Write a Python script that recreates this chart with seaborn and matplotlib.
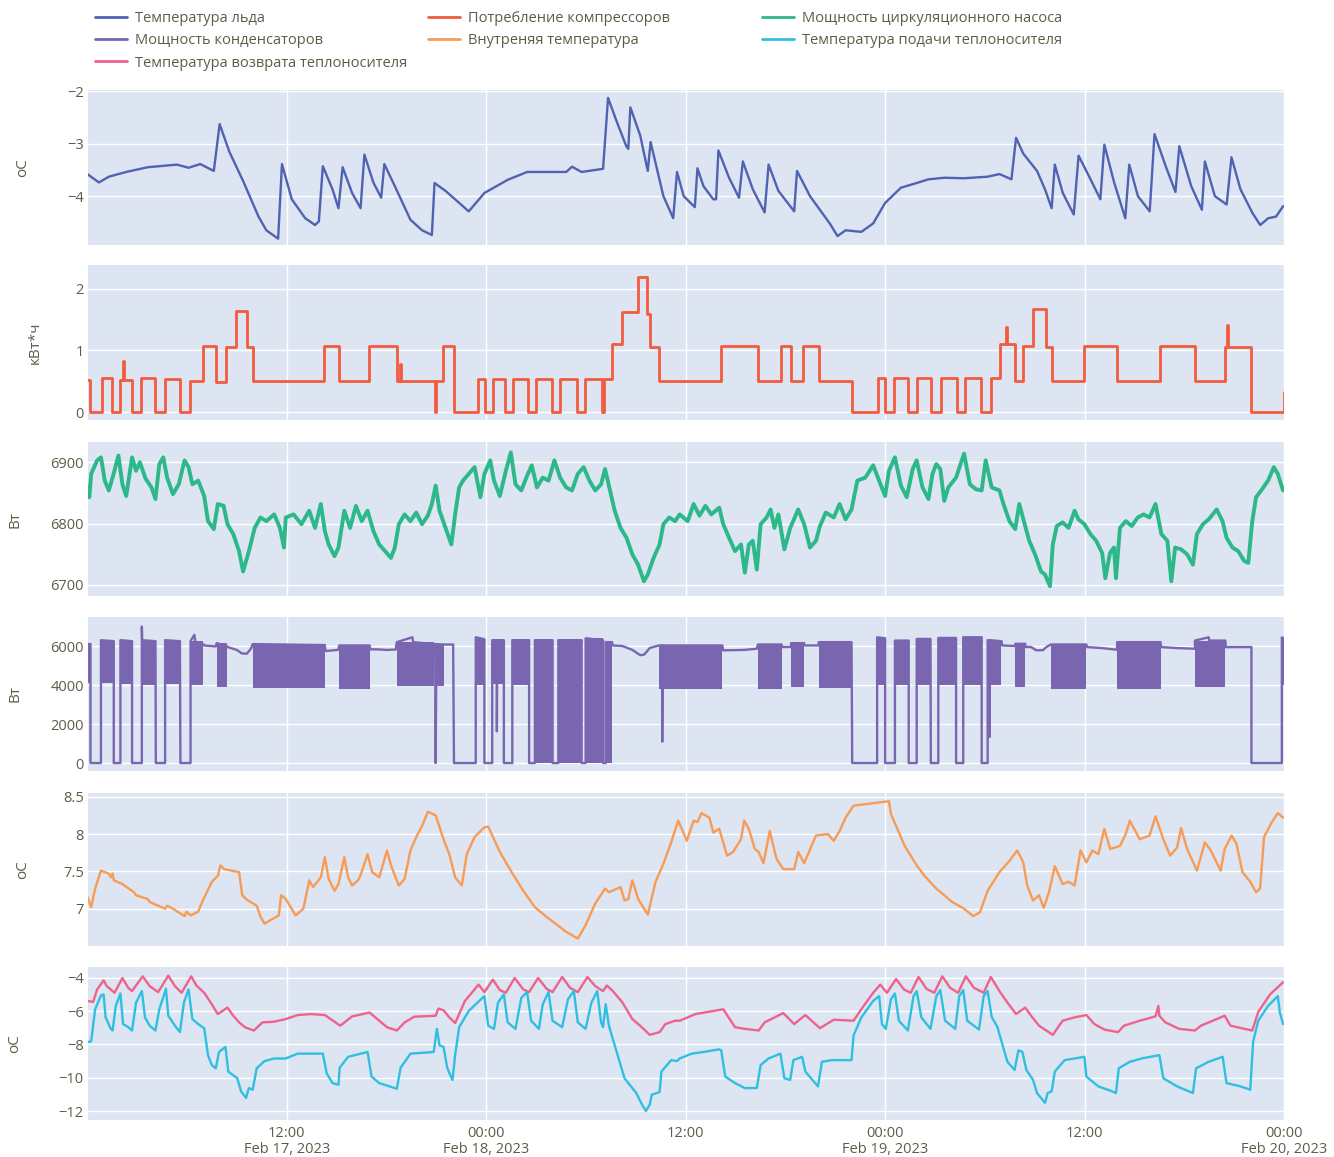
import numpy as np
import pandas as pd
import matplotlib
matplotlib.use("Agg")
import matplotlib.pyplot as plt
import seaborn as sns
from matplotlib.lines import Line2D
from matplotlib.ticker import FuncFormatter

START = pd.Timestamp("2023-02-17 00:00")

# ---- series: (hours since Feb 17 00:00, value) ----
ICE = [(0, -3.58), (0.70, -3.74), (1.29, -3.63), (2.34, -3.54), (3.63, -3.45), (5.39, -3.40),
       (6.09, -3.46), (6.79, -3.39), (7.61, -3.52), (7.96, -2.63), (8.55, -3.16), (9.37, -3.71),
       (10.30, -4.39), (10.77, -4.65), (11.48, -4.81), (11.71, -3.39), (12.30, -4.06), (13.11, -4.42),
       (13.70, -4.55), (13.93, -4.48), (14.17, -3.43), (14.75, -3.87), (15.11, -4.23), (15.36, -3.45),
       (15.93, -3.94), (16.44, -4.23), (16.67, -3.21), (17.21, -3.74), (17.68, -4.03), (17.87, -3.39),
       (18.50, -3.81), (19.44, -4.45), (20.14, -4.65), (20.73, -4.74), (20.89, -3.75), (21.55, -3.90),
       (22.95, -4.29), (23.89, -3.94), (25.29, -3.69), (26.46, -3.54), (28.81, -3.54), (29.16, -3.44),
       (29.74, -3.54), (31.03, -3.48), (31.33, -2.13), (31.85, -2.58), (32.44, -3.06), (32.55, -3.10),
       (32.67, -2.31), (33.26, -2.84), (33.72, -3.52), (33.89, -2.97), (34.66, -4.00), (35.25, -4.42),
       (35.48, -3.54), (35.88, -4.00), (36.55, -4.21), (36.71, -3.47), (37.07, -3.81), (37.66, -4.06),
       (37.83, -4.06), (37.97, -3.13), (38.61, -3.65), (39.21, -4.03), (39.44, -3.34), (40.04, -3.87),
       (40.75, -4.31), (40.99, -3.40), (41.58, -3.90), (42.53, -4.29), (42.70, -3.52), (43.48, -4.00),
       (44.67, -4.52), (45.14, -4.76), (45.62, -4.65), (46.57, -4.68), (47.28, -4.52), (48.00, -4.13),
       (48.95, -3.84), (49.90, -3.75), (50.61, -3.68), (51.56, -3.65), (52.75, -3.66), (54.17, -3.63),
       (54.88, -3.58), (55.60, -3.68), (55.88, -2.89), (56.31, -3.19), (57.14, -3.52), (57.62, -3.87),
       (58.02, -4.23), (58.21, -3.40), (58.69, -3.94), (59.35, -4.35), (59.64, -3.23), (60.36, -3.68),
       (60.95, -4.06), (61.19, -3.02), (61.78, -3.74), (62.45, -4.42), (62.69, -3.40), (63.21, -4.00),
       (63.92, -4.29), (64.21, -2.82), (64.87, -3.42), (65.47, -3.92), (65.70, -3.05), (66.42, -3.81),
       (67.06, -4.26), (67.24, -3.34), (67.84, -4.00), (68.55, -4.16), (68.84, -3.26), (69.38, -3.87),
       (70.10, -4.32), (70.57, -4.55), (71.05, -4.42), (71.52, -4.39), (71.95, -4.19)]

# compressor consumption: level held from each time until the next one
COMPRESSOR = [(0.0, 0.52), (0.19, 0.0), (0.86, 0.55), (1.48, 0.0), (1.96, 0.52), (2.15, 0.83),
              (2.22, 0.52), (2.67, 0.0), (3.25, 0.55), (4.06, 0.0), (4.66, 0.53), (5.60, 0.0),
              (6.19, 0.50), (6.97, 1.08), (7.75, 0.48), (8.35, 1.05), (8.93, 1.65), (9.58, 1.05),
              (9.95, 0.50), (14.26, 1.08), (15.15, 0.50), (16.95, 1.07), (18.65, 0.50), (18.80, 0.78),
              (18.88, 0.50), (20.90, 0.0), (21.00, 0.50), (21.38, 1.07), (22.07, 0.0), (23.48, 0.53),
              (23.95, 0.0), (24.42, 0.53), (25.12, 0.0), (25.60, 0.53), (26.52, 0.0), (27.00, 0.53),
              (27.95, 0.0), (28.44, 0.53), (29.45, 0.0), (29.92, 0.53), (30.97, 0.0), (31.08, 0.53),
              (31.56, 1.10), (32.14, 1.63), (33.13, 2.20), (33.65, 1.60), (33.88, 1.05), (34.37, 0.50),
              (38.10, 1.08), (40.33, 0.50), (41.73, 1.08), (42.35, 0.50), (43.04, 1.08), (44.02, 0.50),
              (45.98, 0.0), (47.58, 0.55), (48.00, 0.0), (48.53, 0.55), (49.36, 0.0), (49.90, 0.55),
              (50.79, 0.0), (51.38, 0.55), (52.33, 0.0), (52.80, 0.55), (53.78, 0.0), (54.35, 0.55),
              (54.94, 1.10), (55.25, 1.38), (55.35, 1.10), (55.83, 0.50), (56.31, 1.08), (56.90, 1.68),
              (57.68, 1.05), (58.03, 0.50), (59.98, 1.07), (61.95, 0.50), (64.53, 1.07), (66.64, 0.50),
              (68.43, 1.05), (68.58, 1.41), (68.66, 1.05), (70.03, 0.0), (71.97, 0.33), (72.0, 0.33)]

PUMP = [(0, 6859), (0.12, 6843), (0.23, 6881), (0.59, 6903), (0.82, 6908), (1.05, 6870), (1.29, 6854),
        (1.52, 6875), (1.87, 6911), (2.11, 6864), (2.34, 6845), (2.69, 6908), (2.93, 6886), (3.16, 6900),
        (3.51, 6873), (3.86, 6859), (4.10, 6840), (4.33, 6897), (4.57, 6908), (4.80, 6875), (5.15, 6848),
        (5.50, 6864), (5.85, 6903), (6.09, 6892), (6.32, 6864), (6.67, 6870), (7.03, 6845), (7.26, 6804),
        (7.61, 6791), (7.85, 6832), (8.20, 6829), (8.43, 6799), (8.78, 6783), (9.13, 6755), (9.37, 6722),
        (9.72, 6755), (10.07, 6793), (10.42, 6810), (10.77, 6804), (11.24, 6815), (11.59, 6793),
        (11.83, 6761), (11.94, 6810), (12.41, 6815), (12.88, 6799), (13.35, 6821), (13.70, 6793),
        (14.05, 6832), (14.29, 6788), (14.52, 6766), (14.87, 6747), (15.11, 6761), (15.46, 6821),
        (15.81, 6793), (16.16, 6829), (16.51, 6804), (16.86, 6821), (17.21, 6788), (17.56, 6766),
        (17.92, 6755), (18.27, 6744), (18.50, 6761), (18.74, 6799), (19.09, 6815), (19.44, 6804),
        (19.79, 6818), (20.14, 6799), (20.49, 6813), (20.73, 6832), (20.96, 6862), (21.19, 6821),
        (21.55, 6793), (21.90, 6766), (22.13, 6815), (22.37, 6859), (22.60, 6870), (22.95, 6881),
        (23.30, 6892), (23.65, 6843), (23.89, 6881), (24.24, 6903), (24.47, 6870), (24.82, 6845),
        (25.18, 6886), (25.48, 6916), (25.76, 6864), (26.11, 6854), (26.46, 6878), (26.74, 6895),
        (27.05, 6859), (27.40, 6875), (27.75, 6870), (28.10, 6903), (28.45, 6875), (28.81, 6859),
        (29.16, 6854), (29.51, 6881), (29.86, 6892), (30.21, 6870), (30.56, 6854), (30.91, 6864),
        (31.15, 6889), (31.50, 6848), (31.73, 6821), (32.08, 6793), (32.44, 6777), (32.79, 6750),
        (33.14, 6733), (33.49, 6706), (33.72, 6717), (34.07, 6744), (34.43, 6766), (34.66, 6799),
        (35.01, 6810), (35.36, 6804), (35.64, 6815), (36.12, 6804), (36.48, 6832), (36.83, 6813),
        (37.19, 6829), (37.54, 6815), (38.02, 6826), (38.26, 6799), (38.61, 6777), (38.97, 6755),
        (39.33, 6766), (39.56, 6720), (39.80, 6766), (40.04, 6772), (40.28, 6725), (40.51, 6799),
        (40.87, 6810), (41.11, 6823), (41.34, 6793), (41.58, 6815), (41.94, 6758), (42.29, 6793),
        (42.77, 6823), (43.13, 6799), (43.48, 6761), (43.84, 6772), (44.08, 6796), (44.43, 6818),
        (44.91, 6810), (45.26, 6832), (45.62, 6807), (45.98, 6823), (46.33, 6870), (46.81, 6875),
        (47.28, 6895), (47.64, 6870), (48.00, 6845), (48.23, 6886), (48.59, 6908), (48.95, 6862),
        (49.30, 6843), (49.66, 6889), (49.90, 6903), (50.25, 6859), (50.61, 6840), (50.85, 6881),
        (51.08, 6897), (51.32, 6889), (51.56, 6837), (51.80, 6859), (52.27, 6875), (52.75, 6914),
        (53.10, 6864), (53.46, 6856), (53.81, 6854), (54.05, 6903), (54.41, 6859), (54.88, 6854),
        (55.12, 6832), (55.48, 6804), (55.83, 6791), (56.07, 6832), (56.43, 6796), (56.67, 6772),
        (57.02, 6750), (57.38, 6722), (57.62, 6717), (57.92, 6698), (58.09, 6766), (58.33, 6796),
        (58.68, 6802), (59.04, 6793), (59.40, 6821), (59.63, 6807), (59.99, 6799), (60.35, 6783),
        (60.70, 6772), (61.06, 6752), (61.25, 6711), (61.53, 6752), (61.77, 6761), (61.89, 6711),
        (62.13, 6793), (62.48, 6804), (62.84, 6796), (63.20, 6810), (63.55, 6815), (63.91, 6810),
        (64.27, 6832), (64.62, 6783), (64.98, 6772), (65.22, 6706), (65.45, 6761), (65.81, 6758),
        (66.17, 6750), (66.52, 6733), (66.76, 6783), (67.12, 6799), (67.47, 6807), (67.95, 6823),
        (68.30, 6804), (68.54, 6777), (68.90, 6761), (69.25, 6755), (69.61, 6739), (69.85, 6736),
        (70.09, 6804), (70.32, 6843), (70.68, 6856), (71.04, 6870), (71.39, 6892), (71.63, 6881),
        (71.94, 6854)]

CONDENSER = [(0.0, 6100), (0.19, 6100), (0.19, 0), (0.82, 0), (0.82, 6300), (1.59, 6250), (1.59, 0),
             (1.99, 0), (1.99, 6300), (2.69, 6250), (2.69, 0), (3.28, 0), (3.28, 7000), (3.30, 6300),
             (4.10, 6250), (4.12, 0), (4.68, 0), (4.68, 6300), (5.57, 6250), (5.60, 0), (6.21, 0),
             (6.21, 6250), (6.44, 6580), (6.50, 6200), (6.98, 6100), (7.03, 6030), (7.73, 5980),
             (7.78, 6150), (8.38, 6000), (8.43, 5950), (9.00, 5800), (9.30, 5620), (9.60, 5610),
             (9.84, 5860), (9.95, 6100), (14.29, 6050), (14.33, 5745), (14.80, 5780), (15.11, 5810),
             (15.15, 6030), (16.98, 6030), (17.03, 5830), (17.50, 5830), (18.00, 5800), (18.55, 5820),
             (18.62, 6200), (19.56, 6450), (19.60, 6200), (20.84, 6100), (20.93, 6100), (20.96, 0),
             (21.00, 6100), (21.43, 6080), (22.01, 6080), (22.06, 0), (23.37, 0), (23.37, 6450),
             (23.89, 6350), (23.89, 0), (24.36, 0), (24.36, 6300), (24.64, 6300), (24.64, 1625),
             (24.66, 6300), (25.06, 6300), (25.06, 0), (25.57, 0), (25.57, 6300), (26.58, 6300),
             (26.58, 0), (26.93, 0), (26.93, 6300), (27.99, 6300), (27.99, 0), (28.34, 0), (28.34, 6300),
             (29.74, 6300), (29.74, 0), (29.98, 0), (29.98, 6400), (31.03, 6300), (31.03, 0), (31.19, 0),
             (31.19, 6200), (31.57, 6200), (31.62, 6030), (32.20, 6000), (32.80, 5800), (33.26, 5530),
             (33.50, 5560), (33.84, 5900), (34.38, 6030), (34.59, 6030), (34.59, 1090), (34.61, 6030),
             (38.21, 6030), (38.25, 5780), (39.50, 5800), (40.28, 5860), (40.35, 6080), (41.77, 6080),
             (41.80, 5950), (42.34, 5950), (42.34, 6150), (43.13, 6150), (43.15, 6030), (44.00, 6030),
             (44.00, 6200), (45.98, 6200), (46.02, 0), (47.52, 0), (47.52, 6450), (48.00, 6400),
             (48.00, 0), (48.59, 0), (48.59, 6280), (49.42, 6280), (49.42, 0), (49.90, 0), (49.90, 6365),
             (50.73, 6365), (50.75, 0), (51.20, 0), (51.20, 6415), (52.27, 6415), (52.27, 0), (52.70, 0),
             (52.70, 6450), (53.81, 6450), (53.81, 0), (54.17, 0), (54.17, 6300), (54.29, 6300),
             (54.29, 1340), (54.31, 6300), (55.00, 6250), (55.05, 6030), (55.83, 6000), (55.83, 6115),
             (56.43, 6115), (56.45, 5950), (56.78, 5950), (57.10, 5780), (57.50, 5790), (57.70, 5945),
             (57.97, 6080), (60.11, 6080), (60.15, 5945), (61.00, 5900), (61.96, 5810), (61.96, 6200),
             (64.57, 6200), (64.60, 5945), (65.50, 5900), (66.64, 5860), (66.64, 6280), (67.47, 6450),
             (67.50, 6280), (68.47, 6280), (68.50, 5945), (70.04, 5945), (70.04, 0), (71.87, 0),
             (71.87, 6450), (71.99, 6300)]

# spans where the condenser power switches rapidly: start, end, low, high
COND_BAND_START = [0.0, 0.82, 1.99, 3.28, 4.68, 6.21, 7.78, 9.95, 15.15, 18.62, 21.03, 23.37, 24.36,
                   25.57, 26.93, 28.34, 29.98, 31.19, 34.38, 40.35, 42.34, 44.00, 47.52, 48.59, 49.90,
                   51.20, 52.70, 54.17, 55.83, 57.97, 61.96, 66.64, 71.87]
COND_BAND_END = [0.19, 1.59, 2.69, 4.10, 5.57, 6.98, 8.38, 14.29, 16.98, 20.84, 21.43, 23.89, 25.06,
                 26.58, 27.99, 29.74, 31.03, 31.57, 38.21, 41.77, 43.13, 45.98, 48.00, 49.42, 50.73,
                 52.27, 53.81, 55.00, 56.43, 60.11, 64.57, 68.47, 71.99]
COND_BAND_LOW = [4100, 4100, 4070, 4020, 4070, 4020, 3900, 3830, 3800, 3950, 3950, 4000, 4050,
                 4000, 0, 0, 0, 0, 3800, 3800, 3900, 3850, 4000, 4020, 4020,
                 4020, 4020, 4020, 3900, 3800, 3800, 3900, 4000]
COND_BAND_HIGH = [6150, 6300, 6300, 6300, 6300, 6250, 6150, 6120, 6030, 6200, 6115, 6350, 6300,
                  6300, 6300, 6300, 6400, 6200, 6030, 6080, 6150, 6200, 6450, 6280, 6365,
                  6415, 6450, 6300, 6115, 6080, 6200, 6280, 6450]

INSIDE = [(0, 7.16), (0.23, 7.02), (0.47, 7.27), (0.82, 7.51), (1.29, 7.47), (1.41, 7.42), (1.52, 7.47),
          (1.59, 7.38), (2.11, 7.33), (2.81, 7.22), (2.93, 7.18), (3.63, 7.13), (3.75, 7.09), (4.68, 7.00),
          (4.80, 7.04), (5.15, 7.00), (5.85, 6.90), (5.97, 6.96), (6.21, 6.91), (6.67, 6.96), (6.91, 7.09),
          (7.49, 7.36), (7.85, 7.44), (8.01, 7.58), (8.24, 7.53), (9.13, 7.49), (9.32, 7.18), (9.60, 7.12),
          (10.19, 7.04), (10.42, 6.89), (10.66, 6.80), (11.52, 6.91), (11.66, 7.18), (11.94, 7.13),
          (12.53, 6.91), (13.00, 7.00), (13.35, 7.38), (13.58, 7.29), (14.05, 7.42), (14.29, 7.69),
          (14.52, 7.40), (14.87, 7.24), (15.11, 7.33), (15.46, 7.69), (15.69, 7.42), (15.93, 7.31),
          (16.28, 7.38), (16.39, 7.42), (16.86, 7.73), (17.14, 7.49), (17.56, 7.42), (18.03, 7.78),
          (18.27, 7.58), (18.74, 7.31), (19.09, 7.40), (19.44, 7.78), (19.79, 7.96), (20.14, 8.11),
          (20.49, 8.30), (20.96, 8.25), (21.43, 7.93), (21.78, 7.73), (22.13, 7.42), (22.53, 7.31),
          (22.83, 7.73), (23.30, 7.96), (23.89, 8.09), (24.12, 8.10), (24.82, 7.76), (25.53, 7.49),
          (26.23, 7.24), (26.93, 7.02), (27.63, 6.89), (28.81, 6.69), (29.51, 6.60), (29.98, 6.78),
          (30.56, 7.07), (31.15, 7.27), (31.38, 7.22), (32.08, 7.29), (32.32, 7.11), (32.55, 7.13),
          (32.79, 7.38), (33.14, 7.13), (33.72, 6.92), (34.19, 7.36), (34.66, 7.60), (35.13, 7.89),
          (35.55, 8.18), (36.07, 7.91), (36.48, 8.18), (36.71, 8.16), (36.95, 8.28), (37.43, 8.22),
          (37.66, 8.02), (38.02, 8.07), (38.49, 7.71), (38.85, 7.76), (39.33, 7.93), (39.52, 8.18),
          (39.80, 8.07), (40.16, 7.80), (40.39, 7.76), (40.68, 7.61), (41.06, 8.04), (41.46, 7.67),
          (41.87, 7.53), (42.53, 7.53), (42.77, 7.76), (43.13, 7.61), (43.84, 7.98), (44.55, 8.00),
          (44.91, 7.91), (45.26, 8.04), (45.62, 8.22), (46.10, 8.38), (48.23, 8.44), (48.35, 8.27),
          (49.18, 7.84), (49.90, 7.58), (50.37, 7.44), (51.08, 7.27), (52.03, 7.09), (52.75, 7.00),
          (53.29, 6.90), (53.70, 6.95), (54.17, 7.24), (54.88, 7.49), (55.48, 7.64), (55.95, 7.78),
          (56.31, 7.62), (56.55, 7.31), (56.90, 7.11), (57.26, 7.18), (57.54, 7.01), (57.86, 7.22),
          (58.21, 7.57), (58.68, 7.33), (59.04, 7.36), (59.40, 7.31), (59.76, 7.78), (60.11, 7.62),
          (60.47, 7.78), (60.83, 7.73), (61.19, 8.07), (61.54, 7.80), (62.13, 7.84), (62.48, 8.00),
          (62.72, 8.18), (63.32, 7.93), (63.91, 7.98), (64.27, 8.24), (64.74, 7.93), (65.15, 7.71),
          (65.57, 7.82), (65.81, 8.08), (66.17, 7.80), (66.76, 7.51), (67.24, 7.89), (67.59, 7.78),
          (68.19, 7.51), (68.43, 7.80), (68.85, 7.98), (69.14, 7.87), (69.50, 7.49), (69.97, 7.36),
          (70.32, 7.22), (70.56, 7.27), (70.80, 7.96), (71.27, 8.16), (71.63, 8.28), (71.94, 8.22)]

RETURN_T = [(0, -5.38), (0.35, -5.44), (0.59, -4.69), (0.98, -4.14), (1.17, -4.49), (1.64, -4.89),
            (2.11, -4.00), (2.46, -4.59), (2.69, -4.79), (3.33, -3.90), (3.75, -4.49), (4.26, -4.85),
            (4.87, -3.86), (5.27, -4.49), (5.67, -4.89), (6.25, -3.90), (6.56, -4.45), (7.03, -4.89),
            (7.49, -5.58), (7.85, -6.17), (8.43, -5.78), (8.78, -6.27), (9.13, -6.67), (9.48, -6.96),
            (10.02, -7.16), (10.54, -6.67), (11.24, -6.63), (11.94, -6.47), (12.65, -6.23), (13.47, -6.17),
            (14.29, -6.23), (15.22, -6.87), (15.93, -6.31), (16.98, -6.08), (18.03, -6.96), (18.62, -7.16),
            (19.09, -6.67), (19.67, -6.33), (20.96, -6.27), (21.12, -5.84), (21.43, -5.94), (21.78, -6.37),
            (22.13, -6.71), (22.72, -5.38), (23.54, -4.40), (23.89, -4.85), (24.40, -4.10), (24.82, -4.73),
            (25.18, -4.89), (25.71, -4.00), (26.23, -4.69), (26.58, -4.85), (27.12, -4.00), (27.63, -4.65),
            (27.99, -4.85), (28.57, -3.94), (29.04, -4.59), (29.51, -4.85), (30.09, -3.94), (30.56, -4.49),
            (31.03, -4.79), (31.26, -4.45), (31.62, -4.79), (32.20, -5.48), (32.79, -6.47), (33.26, -6.87),
            (33.84, -7.42), (34.43, -7.26), (34.78, -6.77), (35.36, -6.57), (35.64, -6.57), (36.59, -6.17),
            (38.26, -5.88), (38.97, -6.96), (39.56, -7.06), (40.39, -7.16), (40.75, -6.67), (41.87, -6.11),
            (42.53, -6.77), (43.20, -6.23), (44.08, -7.02), (44.91, -6.51), (46.10, -6.57), (46.57, -5.88),
            (47.28, -4.89), (47.71, -4.40), (48.11, -4.89), (48.66, -4.06), (49.13, -4.69), (49.54, -4.89),
            (50.01, -3.94), (50.49, -4.65), (50.96, -4.89), (51.44, -3.90), (51.91, -4.59), (52.39, -4.89),
            (52.86, -3.90), (53.34, -4.59), (53.93, -4.89), (54.36, -3.94), (54.88, -4.79), (55.36, -5.48),
            (55.88, -6.17), (56.43, -5.78), (56.78, -6.27), (57.26, -6.87), (58.09, -7.42), (58.68, -6.57),
            (59.40, -6.37), (60.11, -6.23), (60.59, -6.77), (61.19, -7.10), (62.01, -7.26), (62.37, -6.87),
            (63.32, -6.57), (64.27, -6.31), (64.44, -5.68), (64.50, -6.27), (64.86, -6.67), (65.69, -7.06),
            (66.64, -7.16), (67.00, -6.87), (68.43, -6.27), (68.78, -6.87), (70.09, -7.16), (70.45, -6.04),
            (71.16, -4.99), (71.94, -4.26)]

SUPPLY_T = [(0, -7.85), (0.23, -7.81), (0.47, -5.88), (0.82, -5.05), (0.98, -4.99), (1.10, -6.37),
            (1.41, -7.06), (1.52, -7.16), (1.71, -5.68), (1.99, -4.93), (2.15, -6.77), (2.46, -6.96),
            (2.69, -7.16), (2.93, -5.48), (3.28, -4.79), (3.47, -6.37), (3.75, -6.87), (4.10, -7.16),
            (4.33, -5.88), (4.73, -4.65), (4.87, -6.27), (5.27, -6.87), (5.57, -7.26), (5.81, -5.48),
            (6.09, -4.69), (6.32, -6.47), (6.67, -6.77), (7.03, -7.02), (7.26, -8.64), (7.49, -9.24),
            (7.73, -9.43), (7.92, -8.45), (8.31, -8.15), (8.48, -9.63), (9.02, -10.03), (9.25, -10.82),
            (9.55, -11.21), (9.72, -10.62), (9.95, -10.72), (10.19, -9.43), (10.66, -9.00), (11.24, -8.84),
            (11.94, -8.84), (12.65, -8.55), (14.17, -8.55), (14.40, -9.73), (14.75, -10.32), (15.11, -10.42),
            (15.18, -9.40), (15.69, -8.74), (16.86, -8.45), (17.10, -9.93), (17.56, -10.32), (18.62, -10.66),
            (18.85, -9.40), (19.44, -8.55), (20.84, -8.45), (21.03, -7.06), (21.19, -8.05), (21.43, -8.15),
            (21.66, -9.43), (21.97, -10.13), (22.13, -8.64), (22.37, -6.96), (22.95, -5.98), (23.89, -5.09),
            (24.12, -6.87), (24.47, -7.06), (24.71, -5.48), (25.06, -4.99), (25.29, -6.67), (25.76, -7.06),
            (26.11, -5.19), (26.46, -4.85), (26.70, -6.57), (27.17, -7.06), (27.40, -5.58), (27.75, -4.85),
            (27.99, -6.57), (28.57, -6.96), (28.92, -5.28), (29.27, -4.79), (29.51, -6.67), (29.98, -7.06),
            (30.33, -5.48), (30.68, -4.79), (30.91, -6.67), (31.03, -6.96), (31.19, -5.58), (31.38, -6.87),
            (31.73, -8.05), (31.97, -8.84), (32.32, -10.03), (33.03, -10.92), (33.37, -11.61), (33.61, -12.00),
            (33.84, -11.61), (33.96, -11.02), (34.43, -10.86), (34.54, -9.63), (35.13, -8.94), (35.48, -9.00),
            (35.64, -8.84), (36.36, -8.55), (37.07, -8.45), (38.02, -8.29), (38.14, -8.35), (38.38, -9.93),
            (38.97, -10.32), (39.56, -10.62), (40.28, -10.62), (40.51, -9.24), (40.99, -8.84), (41.70, -8.55),
            (41.94, -10.03), (42.29, -10.13), (42.48, -8.94), (43.01, -8.74), (43.20, -9.63), (43.96, -10.52),
            (44.20, -9.04), (44.79, -8.94), (45.98, -8.94), (46.10, -7.46), (46.57, -6.37), (47.28, -5.38),
            (47.64, -5.09), (47.81, -6.77), (48.04, -7.06), (48.35, -5.28), (48.59, -4.93), (48.83, -6.57),
            (49.37, -7.16), (49.71, -5.09), (49.90, -4.79), (50.18, -6.37), (50.73, -7.06), (51.08, -5.09),
            (51.32, -4.73), (51.61, -6.57), (52.22, -7.06), (52.46, -5.09), (52.70, -4.73), (52.94, -6.57),
            (53.65, -7.10), (53.93, -5.09), (54.17, -4.79), (54.41, -6.33), (54.76, -6.96), (55.07, -8.05),
            (55.36, -9.04), (55.79, -9.53), (56.02, -8.35), (56.26, -8.45), (56.50, -9.53), (56.90, -10.13),
            (57.14, -10.92), (57.62, -11.51), (57.78, -10.92), (58.02, -10.82), (58.21, -9.63), (58.80, -8.94),
            (59.40, -8.84), (59.99, -8.74), (60.11, -9.93), (60.83, -10.52), (61.54, -10.77), (61.89, -10.92),
            (62.06, -9.43), (62.72, -9.04), (63.44, -8.84), (64.50, -8.64), (64.74, -10.03), (65.57, -10.52),
            (66.52, -10.92), (66.71, -9.43), (67.47, -9.04), (68.31, -8.74), (68.54, -10.32), (69.38, -10.52),
            (69.97, -10.72), (70.14, -7.85), (70.45, -6.57), (71.04, -5.68), (71.63, -5.09), (71.75, -6.08),
            (71.94, -6.77)]

LABELS = ["Температура льда", "Потребление компрессоров", "Мощность циркуляционного насоса",
          "Мощность конденсаторов", "Внутреняя температура", "Температура подачи теплоносителя",
          "Температура возврата теплоносителя"]
COLORS = ["#5062b2", "#f25b3e", "#2db88a", "#7a66b0", "#f79b56", "#30bfe0", "#ef628b"]
Y_TITLES = ["оС", "кВт*ч", "Вт", "Вт", "оС", "оС"]
X_TICK_HOURS = [12, 24, 36, 48, 60, 72]
X_TICK_LABELS = ["12:00\nFeb 17, 2023", "00:00\nFeb 18, 2023", "12:00",
                 "00:00\nFeb 19, 2023", "12:00", "00:00\nFeb 20, 2023"]

BG = "#dce5f1"
TEXT = "#5e5c48"

sns.set_theme(style="darkgrid", rc={"axes.facecolor": BG, "grid.color": "white",
                                    "grid.linewidth": 1.0, "axes.edgecolor": BG})
plt.rcParams["font.family"] = ["Open Sans", "DejaVu Sans"]


def to_time(hours):
    return START + pd.to_timedelta(np.asarray(hours, dtype=float), unit="h")


def frame(pairs):
    h, v = zip(*pairs)
    return pd.DataFrame({"time": to_time(h), "value": v})


W, H = 1334, 1157
fig = plt.figure(figsize=(W / 100, H / 100), dpi=100)
panel_px = [(90, 245), (265, 420), (442, 596), (617, 771), (793, 946), (967, 1120)]
axes = [fig.add_axes([88 / W, 1 - b / H, 1196 / W, (b - t) / H]) for t, b in panel_px]

lw = 1.7
sns.lineplot(data=frame(ICE), x="time", y="value", ax=axes[0], color=COLORS[0], lw=lw,
             sort=False, estimator=None)
sns.lineplot(data=frame(COMPRESSOR), x="time", y="value", ax=axes[1], color=COLORS[1], lw=lw + 0.3,
             sort=False, estimator=None, drawstyle="steps-post")
sns.lineplot(data=frame(PUMP), x="time", y="value", ax=axes[2], color=COLORS[2], lw=2.8,
             sort=False, estimator=None)
for t0, t1, lo, hi in zip(COND_BAND_START, COND_BAND_END, COND_BAND_LOW, COND_BAND_HIGH):
    axes[3].fill_between(to_time([t0, t1]), lo, hi, color=COLORS[3], lw=0)
sns.lineplot(data=frame(CONDENSER), x="time", y="value", ax=axes[3], color=COLORS[3], lw=lw,
             sort=False, estimator=None)
sns.lineplot(data=frame(INSIDE), x="time", y="value", ax=axes[4], color=COLORS[4], lw=lw,
             sort=False, estimator=None)
sns.lineplot(data=frame(RETURN_T), x="time", y="value", ax=axes[5], color=COLORS[6], lw=lw,
             sort=False, estimator=None)
sns.lineplot(data=frame(SUPPLY_T), x="time", y="value", ax=axes[5], color=COLORS[5], lw=lw,
             sort=False, estimator=None)

ylims = [(-4.93, -1.98), (-0.13, 2.39), (6682, 6933), (-410, 7490), (6.50, 8.55), (-12.54, -3.34)]
yticks = [[-4, -3, -2], [0, 1, 2], [6700, 6800, 6900], [0, 2000, 4000, 6000],
          [7, 7.5, 8, 8.5], [-12, -10, -8, -6, -4]]
title_x = [30, 43, 22, 22, 30, 22]
fmt = FuncFormatter(lambda v, _: f"{v:g}".replace("-", "\u2212"))

for i, ax in enumerate(axes):
    ax.set_xlim(to_time([0.04])[0], to_time([72])[0])
    ax.set_ylim(*ylims[i])
    ax.set_yticks(yticks[i])
    ax.yaxis.set_major_formatter(fmt)
    ax.set_xticks(to_time(X_TICK_HOURS))
    ax.grid(True, color="white", lw=1.0)
    for s in ax.spines.values():
        s.set_visible(False)
    ax.tick_params(axis="both", length=0, labelsize=10.5, colors=TEXT, pad=3)
    ax.set_xlabel("")
    ax.set_ylabel(Y_TITLES[i], fontsize=11, color=TEXT)
    ax.yaxis.set_label_coords((title_x[i] - 88) / 1196, 0.5)
    if i < len(axes) - 1:
        ax.tick_params(axis="x", labelbottom=False)
    else:
        ax.tick_params(axis="x", pad=4)
        ax.set_xticklabels(X_TICK_LABELS, fontsize=10.5, color=TEXT, linespacing=1.1)

# legend laid out in three columns at the top
handles = [Line2D([], [], color=c, lw=2) for c in COLORS]
columns = [[0, 3, 6], [1, 4], [2, 5]]
col_x = [95, 428, 762]
for cx, idx in zip(col_x, columns):
    fig.legend([handles[k] for k in idx], [LABELS[k] for k in idx], loc="upper left",
               bbox_to_anchor=(cx / W, 1 - 11 / H), frameon=False, fontsize=10.5,
               handlelength=2.2, handletextpad=0.55, labelspacing=0.5,
               borderpad=0, borderaxespad=0, labelcolor=TEXT)

fig.savefig("out.png", dpi=100, facecolor="white")
